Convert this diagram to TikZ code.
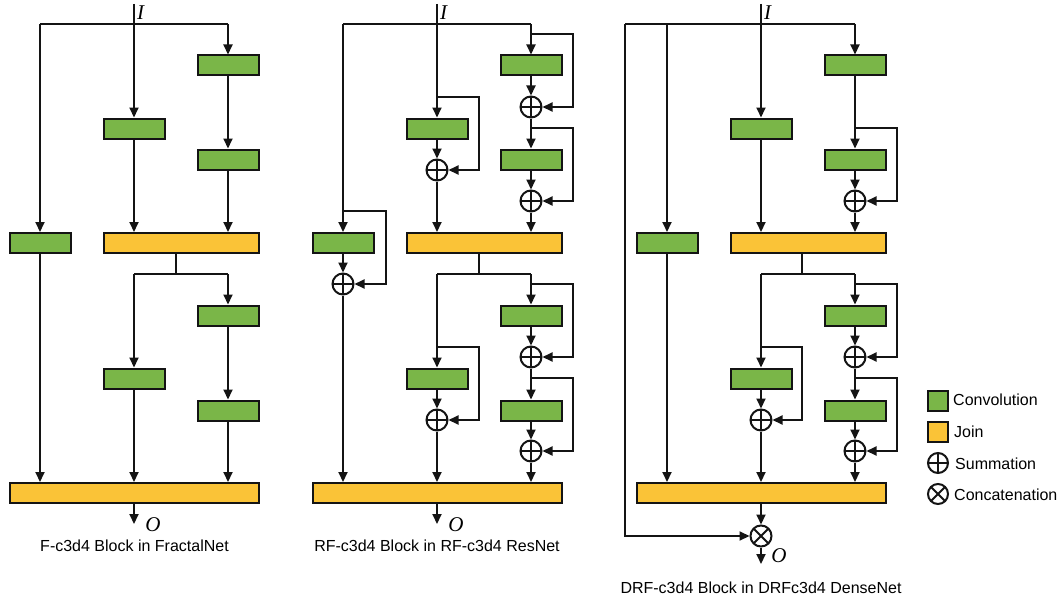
\documentclass[tikz,border=0pt]{standalone}
\usepackage{fontspec}
\setmainfont{Liberation Sans}
\newfontfamily\tnr{Liberation Serif}
\usetikzlibrary{arrows.meta,calc}
\definecolor{convg}{RGB}{122,182,72}
\definecolor{joiny}{RGB}{250,195,55}
\definecolor{edge}{RGB}{20,20,20}
\tikzset{
  wire/.style={line width=2pt, draw=edge},
  arr/.style={wire, -{Triangle[length=10pt,width=9pt]}},
  conv/.style={draw=edge, fill=convg, line width=2pt, minimum width=61pt, minimum height=20pt, inner sep=0pt},
  joinbox/.style={draw=edge, fill=joiny, line width=2pt, minimum height=20pt, inner sep=0pt},
  sumnode/.style={circle, draw=edge, fill=white, line width=2pt, minimum size=21pt, inner sep=0pt,
    path picture={\draw[line width=2pt, edge] (path picture bounding box.north) -- (path picture bounding box.south)
      (path picture bounding box.west) -- (path picture bounding box.east);}},
  catnode/.style={circle, draw=edge, fill=white, line width=2pt, minimum size=21pt, inner sep=0pt,
    path picture={\draw[line width=2pt, edge] (path picture bounding box.north west) -- (path picture bounding box.south east)
      (path picture bounding box.north east) -- (path picture bounding box.south west);}},
  io/.style={font=\tnr\itshape\fontsize{21}{24}\selectfont, inner sep=0pt},
  captext/.style={font=\fontsize{16}{19}\selectfont, inner sep=0pt},
  legtext/.style={font=\fontsize{16}{19}\selectfont, inner sep=0pt, anchor=west},
}
\begin{document}
\begin{tikzpicture}[x=1pt,y=-1pt]
\useasboundingbox (0,0) rectangle (1063,602);

%%%%%%%%%%%%%%%% Panel 1: FractalNet
\node[conv] (aR1) at (228,65.5) {};
\node[conv] (aM1) at (134,128.5) {};
\node[conv] (aR2) at (228,159.5) {};
\node[conv] (aL) at (40,243) {};
\node[joinbox, minimum width=155pt] (aJ1) at (181.5,243) {};
\node[conv] (aR3) at (228,315.5) {};
\node[conv] (aM2) at (134,378.5) {};
\node[conv] (aR4) at (228,410.5) {};
\node[joinbox, minimum width=249pt] (aJ2) at (134.5,493) {};
\coordinate (aIn) at (134,4);
\coordinate (aTM) at (134,24);
\coordinate (aTL) at (40,24);
\coordinate (aTR) at (228,24);
\coordinate (aS) at (176,274);
\coordinate (aSL) at (134,274);
\coordinate (aSR) at (228,274);
\coordinate (aOut) at (134,524);
\draw[wire] (aIn) -- (aTM);
\draw[wire] (aTL) -- (aTR);
\draw[arr] (aTM) -- (aM1.north);
\draw[arr] (aTR) -- (aR1.north);
\draw[arr] (aTL) -- (aL.north);
\draw[arr] (aR1.south) -- (aR2.north);
\draw[arr] (aM1.south) -- (aM1.south |- aJ1.north);
\draw[arr] (aR2.south) -- (aR2.south |- aJ1.north);
\draw[wire] (aJ1.south -| aS) -- (aS);
\draw[wire] (aSL) -- (aSR);
\draw[arr] (aSL) -- (aM2.north);
\draw[arr] (aSR) -- (aR3.north);
\draw[arr] (aR3.south) -- (aR4.north);
\draw[arr] (aR4.south) -- (aR4.south |- aJ2.north);
\draw[arr] (aM2.south) -- (aM2.south |- aJ2.north);
\draw[arr] (aL.south) -- (aL.south |- aJ2.north);
\draw[arr] (aJ2.south -| aOut) -- (aOut);
\node[io, anchor=west] (aI) at (137,13) {I};
\node[io] (aO) at (153,525) {O};
\node[captext] (acap) at (134.5,546) {F-c3d4 Block in FractalNet};

%%%%%%%%%%%%%%%% Panel 2: RF ResNet
\node[conv] (bR1) at (531,65.5) {};
\node[sumnode] (bS1) at (531,107) {};
\node[conv] (bR2) at (531,159.5) {};
\node[sumnode] (bS2) at (531,201) {};
\node[conv] (bM1) at (437,128.5) {};
\node[sumnode] (bSM) at (437,170) {};
\node[conv] (bL) at (343,243) {};
\node[sumnode] (bSL) at (343,284) {};
\node[joinbox, minimum width=155pt] (bJ1) at (484.5,243) {};
\node[conv] (bR3) at (531,315.5) {};
\node[sumnode] (bS3) at (531,357) {};
\node[conv] (bR4) at (531,410.5) {};
\node[sumnode] (bS4) at (531,451) {};
\node[conv] (bM2) at (437,378.5) {};
\node[sumnode] (bSM2) at (437,420) {};
\node[joinbox, minimum width=249pt] (bJ2) at (437.5,493) {};
\coordinate (bIn) at (437,4);
\coordinate (bTM) at (437,24);
\coordinate (bTL) at (343,24);
\coordinate (bTR) at (531,24);
\coordinate (bBR1) at (531,34);
\coordinate (bBR2) at (531,128);
\coordinate (bBM) at (437,97);
\coordinate (bBL) at (343,211);
\coordinate (bS) at (479,274);
\coordinate (bSL2) at (437,274);
\coordinate (bSR) at (531,274);
\coordinate (bBR3) at (531,284);
\coordinate (bBR4) at (531,378);
\coordinate (bBM2) at (437,347);
\coordinate (bOut) at (437,524);
\draw[wire] (bIn) -- (bTM);
\draw[wire] (bTL) -- (bTR);
\draw[arr] (bTM) -- (bM1.north);
\draw[arr] (bTR) -- (bR1.north);
\draw[arr] (bTL) -- (bL.north);
\draw[arr] (bBR1) -- ++(42,0) |- (bS1.east);
\draw[arr] (bR1.south) -- (bS1.north);
\draw[arr] (bS1.south) -- (bR2.north);
\draw[arr] (bBR2) -- ++(42,0) |- (bS2.east);
\draw[arr] (bR2.south) -- (bS2.north);
\draw[arr] (bS2.south) -- (bS2.south |- bJ1.north);
\draw[arr] (bBM) -- ++(42,0) |- (bSM.east);
\draw[arr] (bM1.south) -- (bSM.north);
\draw[arr] (bSM.south) -- (bSM.south |- bJ1.north);
\draw[arr] (bBL) -- ++(43,0) |- (bSL.east);
\draw[arr] (bL.south) -- (bSL.north);
\draw[arr] (bSL.south) -- (bSL.south |- bJ2.north);
\draw[wire] (bJ1.south -| bS) -- (bS);
\draw[wire] (bSL2) -- (bSR);
\draw[arr] (bSR) -- (bR3.north);
\draw[arr] (bBR3) -- ++(42,0) |- (bS3.east);
\draw[arr] (bR3.south) -- (bS3.north);
\draw[arr] (bS3.south) -- (bR4.north);
\draw[arr] (bBR4) -- ++(42,0) |- (bS4.east);
\draw[arr] (bR4.south) -- (bS4.north);
\draw[arr] (bS4.south) -- (bS4.south |- bJ2.north);
\draw[arr] (bSL2) -- (bM2.north);
\draw[arr] (bBM2) -- ++(42,0) |- (bSM2.east);
\draw[arr] (bM2.south) -- (bSM2.north);
\draw[arr] (bSM2.south) -- (bSM2.south |- bJ2.north);
\draw[arr] (bJ2.south -| bOut) -- (bOut);
\node[io, anchor=west] (bI) at (440,13) {I};
\node[io] (bO) at (456,525) {O};
\node[captext] (bcap) at (437,546) {RF-c3d4 Block in RF-c3d4 ResNet};

%%%%%%%%%%%%%%%% Panel 3: DRF DenseNet
\node[conv] (cR1) at (855,65.5) {};
\node[conv] (cM1) at (761,128.5) {};
\node[conv] (cR2) at (855,159.5) {};
\node[sumnode] (cS2) at (855,201) {};
\node[conv] (cL) at (667,243) {};
\node[joinbox, minimum width=155pt] (cJ1) at (808.5,243) {};
\node[conv] (cR3) at (855,315.5) {};
\node[sumnode] (cS3) at (855,357) {};
\node[conv] (cR4) at (855,410.5) {};
\node[sumnode] (cS4) at (855,451) {};
\node[conv] (cM2) at (761,378.5) {};
\node[sumnode] (cSM2) at (761,420) {};
\node[joinbox, minimum width=249pt] (cJ2) at (761.5,493) {};
\node[catnode] (cCat) at (761,536) {};
\coordinate (cIn) at (761,4);
\coordinate (cTM) at (761,24);
\coordinate (cTO) at (625,24);
\coordinate (cTL) at (667,24);
\coordinate (cTR) at (855,24);
\coordinate (cBR2) at (855,128);
\coordinate (cS) at (802,274);
\coordinate (cSL) at (761,274);
\coordinate (cSR) at (855,274);
\coordinate (cBR3) at (855,284);
\coordinate (cBR4) at (855,378);
\coordinate (cBM2) at (761,347);
\coordinate (cOut) at (761,564);
\draw[wire] (cIn) -- (cTM);
\draw[wire] (cTO) -- (cTR);
\draw[arr] (cTO) |- (cCat.west);
\draw[arr] (cTL) -- (cL.north);
\draw[arr] (cTM) -- (cM1.north);
\draw[arr] (cTR) -- (cR1.north);
\draw[arr] (cR1.south) -- (cR2.north);
\draw[arr] (cBR2) -- ++(42,0) |- (cS2.east);
\draw[arr] (cR2.south) -- (cS2.north);
\draw[arr] (cS2.south) -- (cS2.south |- cJ1.north);
\draw[arr] (cM1.south) -- (cM1.south |- cJ1.north);
\draw[arr] (cL.south) -- (cL.south |- cJ2.north);
\draw[wire] (cJ1.south -| cS) -- (cS);
\draw[wire] (cSL) -- (cSR);
\draw[arr] (cSR) -- (cR3.north);
\draw[arr] (cBR3) -- ++(42,0) |- (cS3.east);
\draw[arr] (cR3.south) -- (cS3.north);
\draw[arr] (cS3.south) -- (cR4.north);
\draw[arr] (cBR4) -- ++(42,0) |- (cS4.east);
\draw[arr] (cR4.south) -- (cS4.north);
\draw[arr] (cS4.south) -- (cS4.south |- cJ2.north);
\draw[arr] (cSL) -- (cM2.north);
\draw[arr] (cBM2) -- ++(41,0) |- (cSM2.east);
\draw[arr] (cM2.south) -- (cSM2.north);
\draw[arr] (cSM2.south) -- (cSM2.south |- cJ2.north);
\draw[arr] (cJ2.south -| cCat) -- (cCat.north);
\draw[arr] (cCat.south) -- (cOut);
\node[io, anchor=west] (cI) at (764,13) {I};
\node[io] (cO) at (779,556) {O};
\node[captext] (ccap) at (761,588) {DRF-c3d4 Block in DRFc3d4 DenseNet};

%%%%%%%%%%%%%%%% Legend
\node[conv, minimum width=20pt, minimum height=20pt] (lg1) at (938,400.5) {};
\node[joinbox, minimum width=20pt, minimum height=20pt] (lg2) at (938,431.5) {};
\node[sumnode, minimum size=20pt] (lg3) at (938,463) {};
\node[catnode, minimum size=20pt] (lg4) at (938,494) {};
\node[legtext] (lt1) at (953,400) {Convolution};
\node[legtext] (lt2) at (954,432) {Join};
\node[legtext] (lt3) at (955,464) {Summation};
\node[legtext] (lt4) at (954,495) {Concatenation};
\end{tikzpicture}
\end{document}
